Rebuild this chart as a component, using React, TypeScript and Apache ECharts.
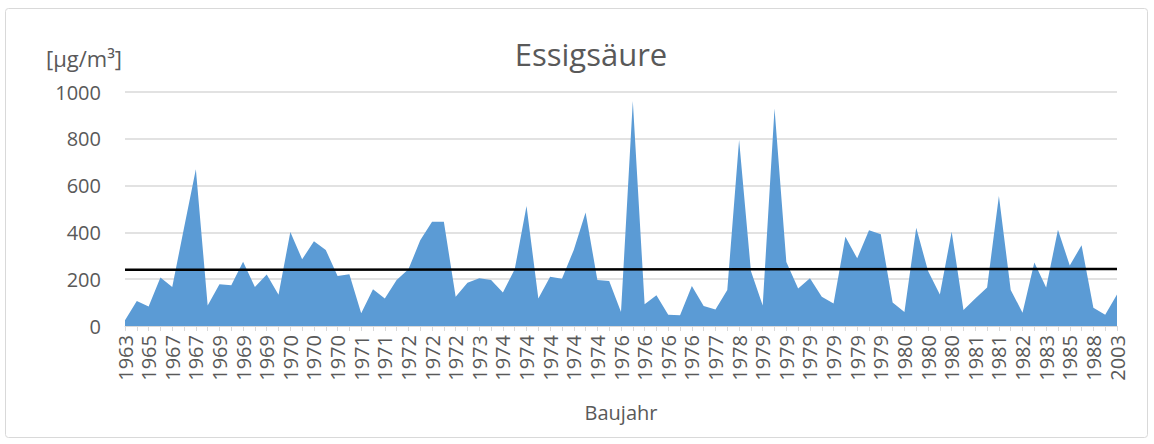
import React, { useEffect, useRef } from "react";
import * as echarts from "echarts";

const categories: string[] = [
  "1963", "1964", "1965", "1966", "1967", "1967", "1967", "1968", "1969", "1969",
  "1969", "1969", "1969", "1970", "1970", "1970", "1970", "1970", "1970", "1971",
  "1971", "1971", "1971", "1972", "1972", "1972", "1972", "1972", "1972", "1973",
  "1973", "1973", "1974", "1974", "1974", "1974", "1974", "1974", "1974", "1974",
  "1974", "1975", "1976", "1976", "1976", "1976", "1976", "1976", "1976", "1977",
  "1977", "1978", "1978", "1979", "1979", "1979", "1979", "1979", "1979", "1979",
  "1979", "1979", "1979", "1979", "1979", "1979", "1980", "1980", "1980", "1980",
  "1980", "1981", "1981", "1981", "1981", "1982", "1982", "1982", "1983", "1984",
  "1985", "1986", "1988", "1990", "2003",
];

const values: number[] = [
  25, 107, 83, 207, 167, 420, 670, 88, 178, 174,
  275, 167, 220, 134, 402, 285, 362, 325, 214, 221,
  54, 157, 117, 197, 242, 366, 445, 445, 125, 185,
  204, 197, 143, 242, 513, 117, 211, 202, 325, 485,
  197, 192, 60, 962, 93, 131, 48, 46, 171, 86,
  70, 154, 795, 235, 88, 930, 274, 160, 204, 125,
  96, 381, 289, 409, 392, 100, 60, 420, 235, 135,
  403, 68, 117, 164, 556, 154, 57, 271, 164, 411,
  259, 345, 78, 48, 135,
];

const trendStart = 240;
const trendEnd = 244;

const yTicks = { min: 0, max: 1000, interval: 200 };

const FONT = "'Open Sans', 'Noto Sans', sans-serif";
const TEXT = "#595959";

export default function App() {
  const ref = useRef<HTMLDivElement>(null);

  useEffect(() => {
    if (!ref.current) return;
    const chart = echarts.init(ref.current, undefined, { renderer: "svg" });
    chart.setOption({
      animation: false,
      backgroundColor: "#ffffff",
      title: {
        text: "Essigsäure",
        left: 586,
        top: 33,
        textAlign: "center",
        textStyle: { fontFamily: FONT, fontSize: 31, fontWeight: "normal", color: TEXT },
      },
      graphic: [
        {
          type: "rect",
          shape: { x: 5.5, y: 8.5, width: 1142, height: 429, r: 3 },
          style: { fill: "none", stroke: "#d9d9d9", lineWidth: 1 },
          silent: true,
        },
        {
          type: "text",
          left: 46,
          top: 47,
          style: { text: "[µg/m³]", font: `22px ${FONT}`, fill: TEXT },
        },
      ],
      grid: { left: 125, right: 37, top: 92, bottom: 118, containLabel: false },
      xAxis: {
        type: "category",
        data: categories,
        boundaryGap: false,
        name: "Baujahr",
        nameLocation: "middle",
        nameGap: 76,
        nameTextStyle: { fontFamily: FONT, fontSize: 20, color: TEXT },
        axisLine: { show: true, lineStyle: { color: "#d9d9d9", width: 1 } },
        axisTick: { show: true, interval: 0, length: 5, lineStyle: { color: "#d9d9d9" } },
        axisLabel: {
          interval: 1,
          rotate: 90,
          margin: 9,
          fontFamily: FONT,
          fontSize: 20,
          color: TEXT,
        },
        splitLine: { show: false },
      },
      yAxis: {
        type: "value",
        min: yTicks.min,
        max: yTicks.max,
        interval: yTicks.interval,
        axisLine: { show: false },
        axisTick: { show: false },
        axisLabel: {
          margin: 24,
          fontFamily: FONT,
          fontSize: 20,
          color: TEXT,
          formatter: (v: number) => String(v),
        },
        splitLine: { lineStyle: { color: "#d9d9d9", width: 1.5 } },
      },
      series: [
        {
          type: "line",
          data: values,
          symbol: "none",
          lineStyle: { width: 0 },
          itemStyle: { color: "#5b9bd5" },
          areaStyle: { color: "#5b9bd5", opacity: 1 },
          markLine: {
            silent: true,
            symbol: "none",
            label: { show: false },
            lineStyle: { color: "#000000", width: 2.5, type: "solid" },
            data: [
              [
                { coord: [0, trendStart] },
                { coord: [categories.length - 1, trendEnd] },
              ],
            ],
          },
        },
      ],
    });
    return () => chart.dispose();
  }, []);

  return (
    <div
      ref={ref}
      style={{ position: "fixed", left: 0, top: 0, width: 1154, height: 444 }}
    />
  );
}
